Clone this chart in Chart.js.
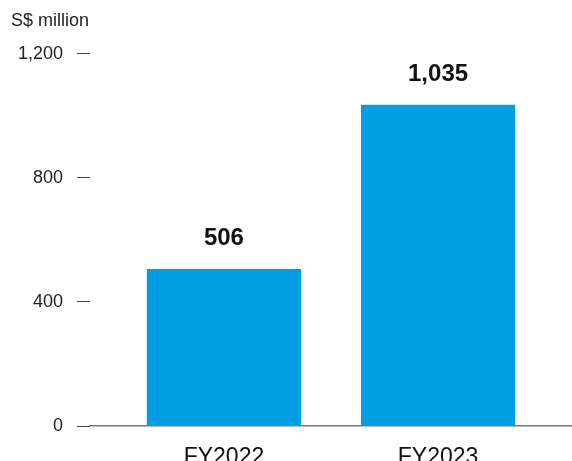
<!DOCTYPE html>
<html>
<head>
<meta charset="utf-8">
<script src="https://cdn.jsdelivr.net/npm/chart.js@4/dist/chart.umd.min.js"></script>
<style>
  html, body { margin: 0; padding: 0; overflow: hidden; background: #fff; }
</style>
</head>
<body>
<canvas id="chart" width="572" height="480"></canvas>
<script>
// data
const years = ["FY2022", "FY2023"];
const values = [506, 1035];
const yTicks = [0, 400, 800, 1200];

const barColor = "#009fe3";

// labels above bars
const valueLabels = {
    id: 'valueLabels',
    afterDatasetsDraw(chart) {
        const ctx = chart.ctx;
        const meta = chart.getDatasetMeta(0);
        ctx.save();
        ctx.font = 'bold 24px "Liberation Sans", Arial, sans-serif';
        ctx.fillStyle = '#111';
        ctx.textAlign = 'center';
        ctx.textBaseline = 'alphabetic';
        meta.data.forEach((bar, i) => {
            ctx.fillText(values[i].toLocaleString('en-US'), bar.x, bar.y - 24);
        });
        ctx.restore();
    }
};

new Chart("chart", {
    type: "bar",
    data: {
        datasets: [{
            data: years.map((y, i) => ({ x: i + 1, y: values[i] })),
            backgroundColor: barColor,
            categoryPercentage: 1,
            barPercentage: 0.72
        }]
    },
    options: {
        responsive: false,
        animation: false,
        layout: { padding: { left: 11, right: 0, top: 0, bottom: 0 } },
        plugins: {
            legend: { display: false },
            tooltip: { enabled: false },
            title: {
                display: true,
                text: "S$ million",
                align: "start",
                color: '#222',
                font: { family: '"Liberation Sans", Arial, sans-serif', size: 18, weight: 'normal' },
                padding: { top: 10, bottom: 22 }
            }
        },
        scales: {
            x: {
                type: 'linear',
                offset: false,
                min: 0.3744,
                max: 2.6256,
                afterBuildTicks(scale) {
                    scale.ticks = years.map((y, i) => ({ value: i + 1 }));
                },
                afterFit(scale) { scale.height = 54; },
                ticks: {
                    callback: (v) => years[v - 1] || '',
                    color: '#111',
                    font: { family: '"Liberation Sans", Arial, sans-serif', size: 23 },
                    padding: 18
                },
                grid: { display: true, drawOnChartArea: false, drawTicks: false },
                border: { display: true, color: '#777', width: 1.5 }
            },
            y: {
                min: 0,
                max: 1200,
                afterBuildTicks(scale) {
                    scale.ticks = yTicks.map(v => ({ value: v }));
                },
                afterFit(scale) { scale.width = 79; },
                ticks: {
                    callback: (v) => v.toLocaleString('en-US'),
                    color: '#222',
                    font: { family: '"Liberation Sans", Arial, sans-serif', size: 18 },
                    padding: 14
                },
                grid: { drawOnChartArea: false, tickLength: 13, color: '#444', lineWidth: 1 },
                border: { display: false }
            }
        }
    },
    plugins: [valueLabels]
});
</script>
</body>
</html>
